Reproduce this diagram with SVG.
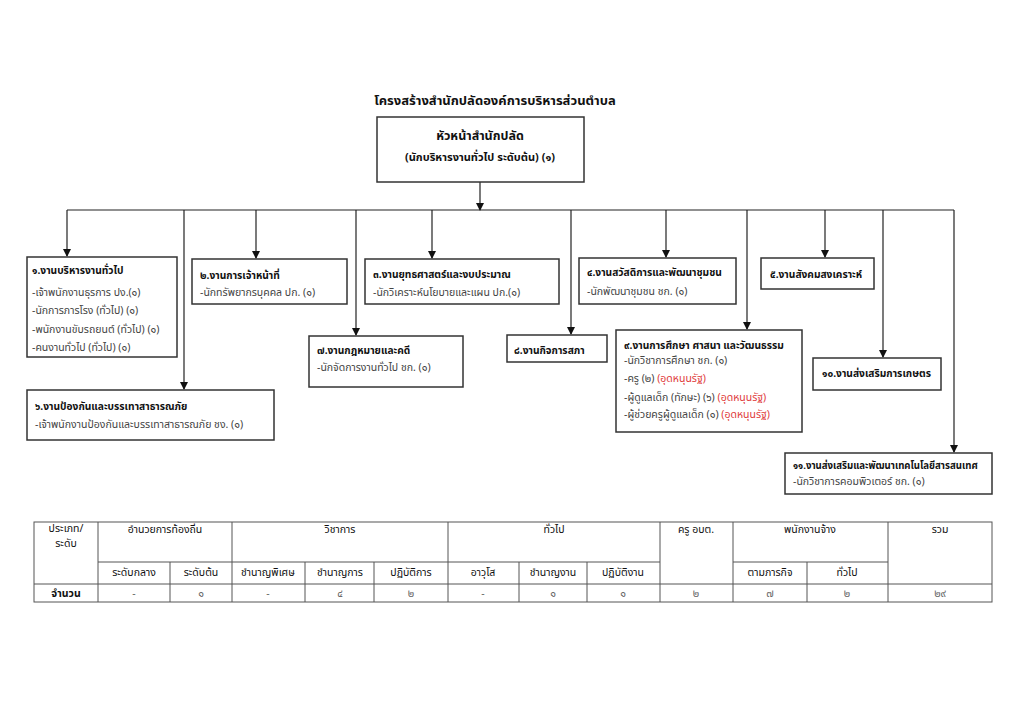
<svg xmlns="http://www.w3.org/2000/svg" width="1024" height="724" viewBox="0 0 1024 724">
<style>
text{font-family:"Noto Sans Thai","Tahoma","Liberation Sans",sans-serif;}
.box{fill:#fff;stroke:#333;stroke-width:1.5;}
.t{font-size:10.2px;font-weight:bold;fill:#111;}
.s{font-size:10.5px;fill:#444;}
.r{fill:#e03a3a;}
.ln{stroke:#222;stroke-width:1.2;fill:none;}
.tb{stroke:#555;stroke-width:1;fill:none;}
.th{font-size:10.5px;fill:#111;text-anchor:middle;}
.tv{font-size:10.5px;fill:#666;text-anchor:middle;}
</style>
<defs>
<marker id="ah" markerWidth="8" markerHeight="8" refX="7" refY="4" orient="auto" markerUnits="userSpaceOnUse">
<path d="M0,0 L8,4 L0,8 Z" fill="#111"/>
</marker>
</defs>
<rect width="1024" height="724" fill="#fff"/>
<text x="495" y="105" text-anchor="middle" style="font-size:13px;font-weight:bold;fill:#111">โครงสร้างสำนักปลัดองค์การบริหารส่วนตำบล</text>

<g id="connectors">
<line class="ln" x1="480" y1="182" x2="480" y2="210" marker-end="url(#ah)"/>
<line class="ln" x1="67" y1="210" x2="954" y2="210"/>
<line class="ln" x1="67" y1="210" x2="67" y2="256" marker-end="url(#ah)"/>
<line class="ln" x1="184" y1="210" x2="184" y2="389" marker-end="url(#ah)"/>
<line class="ln" x1="256" y1="210" x2="256" y2="258" marker-end="url(#ah)"/>
<line class="ln" x1="356" y1="210" x2="356" y2="335" marker-end="url(#ah)"/>
<line class="ln" x1="432" y1="210" x2="432" y2="258" marker-end="url(#ah)"/>
<line class="ln" x1="571" y1="210" x2="571" y2="334" marker-end="url(#ah)"/>
<line class="ln" x1="666" y1="210" x2="666" y2="257" marker-end="url(#ah)"/>
<line class="ln" x1="747" y1="210" x2="747" y2="329" marker-end="url(#ah)"/>
<line class="ln" x1="825" y1="210" x2="825" y2="257" marker-end="url(#ah)"/>
<line class="ln" x1="883" y1="210" x2="883" y2="357" marker-end="url(#ah)"/>
<line class="ln" x1="954" y1="210" x2="954" y2="452" marker-end="url(#ah)"/>
</g>

<g id="head">
<rect class="box" x="377" y="117" width="207" height="65"/>
<text x="480" y="140" text-anchor="middle" style="font-size:12.5px;font-weight:bold;fill:#111">หัวหน้าสำนักปลัด</text>
<text x="480" y="161" text-anchor="middle" style="font-size:11px;font-weight:bold;fill:#111">(นักบริหารงานทั่วไป ระดับต้น) (๑)</text>
</g>

<g id="n1">
<rect class="box" x="27" y="257" width="150" height="100"/>
<text class="t" x="32" y="274">๑.งานบริหารงานทั่วไป</text>
<text class="s" x="32" y="296">-เจ้าพนักงานธุรการ ปง.(๑)</text>
<text class="s" x="32" y="314">-นักการภารโรง (ทั่วไป) (๑)</text>
<text class="s" x="32" y="333">-พนักงานขับรถยนต์ (ทั่วไป) (๑)</text>
<text class="s" x="32" y="351">-คนงานทั่วไป (ทั่วไป) (๑)</text>
</g>

<g id="n2">
<rect class="box" x="192" y="259" width="155" height="45"/>
<text class="t" x="200" y="279">๒.งานการเจ้าหน้าที่</text>
<text class="s" x="200" y="296">-นักทรัพยากรบุคคล ปก. (๑)</text>
</g>

<g id="n3">
<rect class="box" x="365" y="259" width="194" height="45"/>
<text class="t" x="373" y="278">๓.งานยุทธศาสตร์และงบประมาณ</text>
<text class="s" x="373" y="296">-นักวิเคราะห์นโยบายและแผน ปก.(๑)</text>
</g>

<g id="n4">
<rect class="box" x="579" y="258" width="157" height="46"/>
<text class="t" x="587" y="276">๔.งานสวัสดิการและพัฒนาชุมชน</text>
<text class="s" x="587" y="295">-นักพัฒนาชุมชน  ชก.  (๑)</text>
</g>

<g id="n5">
<rect class="box" x="761" y="258" width="113" height="31"/>
<text class="t" x="770" y="278">๕.งานสังคมสงเคราะห์</text>
</g>

<g id="n6">
<rect class="box" x="27" y="390" width="247" height="50"/>
<text class="t" x="35" y="410">๖.งานป้องกันและบรรเทาสาธารณภัย</text>
<text class="s" x="35" y="428">-เจ้าพนักงานป้องกันและบรรเทาสาธารณภัย ชง. (๑)</text>
</g>

<g id="n7">
<rect class="box" x="309" y="336" width="154" height="51"/>
<text class="t" x="317" y="354">๗.งานกฎหมายและคดี</text>
<text class="s" x="317" y="371">-นักจัดการงานทั่วไป ชก. (๑)</text>
</g>

<g id="n8">
<rect class="box" x="507" y="335" width="100" height="27"/>
<text class="t" x="514" y="354">๘.งานกิจการสภา</text>
</g>

<g id="n9">
<rect class="box" x="616" y="330" width="186" height="102"/>
<text class="t" x="624" y="349">๙.งานการศึกษา ศาสนา และวัฒนธรรม</text>
<text class="s" x="624" y="364">-นักวิชาการศึกษา ชก. (๑)</text>
<text class="s" x="624" y="382">-ครู   (๒) <tspan class="r">(อุดหนุนรัฐ)</tspan></text>
<text class="s" x="624" y="401">-ผู้ดูแลเด็ก (ทักษะ) (๖) <tspan class="r">(อุดหนุนรัฐ)</tspan></text>
<text class="s" x="624" y="418">-ผู้ช่วยครูผู้ดูแลเด็ก  (๑)  <tspan class="r">(อุดหนุนรัฐ)</tspan></text>
</g>

<g id="n10">
<rect class="box" x="813" y="358" width="128" height="32"/>
<text class="t" x="822" y="377">๑๐.งานส่งเสริมการเกษตร</text>
</g>

<g id="n11">
<rect class="box" x="785" y="453" width="207" height="41"/>
<text class="t" x="793" y="469" style="font-size:9.6px">๑๑.งานส่งเสริมและพัฒนาเทคโนโลยีสารสนเทศ</text>
<text class="s" x="793" y="485">-นักวิชาการคอมพิวเตอร์ ชก. (๑)</text>
</g>

<g id="table">
<rect class="tb" x="34" y="522" width="958" height="80"/>
<line class="tb" x1="98" y1="562" x2="660" y2="562"/>
<line class="tb" x1="733" y1="562" x2="888" y2="562"/>
<line class="tb" x1="34" y1="584" x2="992" y2="584"/>
<line class="tb" x1="98" y1="522" x2="98" y2="602"/>
<line class="tb" x1="170" y1="562" x2="170" y2="602"/>
<line class="tb" x1="232" y1="522" x2="232" y2="602"/>
<line class="tb" x1="305" y1="562" x2="305" y2="602"/>
<line class="tb" x1="374" y1="562" x2="374" y2="602"/>
<line class="tb" x1="448" y1="522" x2="448" y2="602"/>
<line class="tb" x1="519" y1="562" x2="519" y2="602"/>
<line class="tb" x1="587" y1="562" x2="587" y2="602"/>
<line class="tb" x1="660" y1="522" x2="660" y2="602"/>
<line class="tb" x1="733" y1="522" x2="733" y2="602"/>
<line class="tb" x1="807" y1="562" x2="807" y2="602"/>
<line class="tb" x1="888" y1="522" x2="888" y2="602"/>
<text class="th" x="66" y="532">ประเภท/</text>
<text class="th" x="66" y="547">ระดับ</text>
<text class="th" x="165" y="533">อำนวยการท้องถิ่น</text>
<text class="th" x="340" y="533">วิชาการ</text>
<text class="th" x="554" y="533">ทั่วไป</text>
<text class="th" x="696" y="533">ครู อบต.</text>
<text class="th" x="810" y="533">พนักงานจ้าง</text>
<text class="th" x="940" y="533">รวม</text>
<text class="th" x="134" y="576">ระดับกลาง</text>
<text class="th" x="201" y="576">ระดับต้น</text>
<text class="th" x="268" y="576">ชำนาญพิเศษ</text>
<text class="th" x="340" y="576">ชำนาญการ</text>
<text class="th" x="411" y="576">ปฏิบัติการ</text>
<text class="th" x="483" y="576">อาวุโส</text>
<text class="th" x="553" y="576">ชำนาญงาน</text>
<text class="th" x="623" y="576">ปฏิบัติงาน</text>
<text class="th" x="770" y="576">ตามภารกิจ</text>
<text class="th" x="847" y="576">ทั่วไป</text>
<text class="th" x="66" y="597" style="font-weight:bold">จำนวน</text>
<text class="tv" x="134" y="597">-</text>
<text class="tv" x="201" y="597">๑</text>
<text class="tv" x="268" y="597">-</text>
<text class="tv" x="340" y="597">๔</text>
<text class="tv" x="411" y="597">๒</text>
<text class="tv" x="483" y="597">-</text>
<text class="tv" x="553" y="597">๑</text>
<text class="tv" x="623" y="597">๑</text>
<text class="tv" x="696" y="597">๒</text>
<text class="tv" x="770" y="597">๗</text>
<text class="tv" x="847" y="597">๒</text>
<text class="tv" x="940" y="597">๒๙</text>
</g>
</svg>
